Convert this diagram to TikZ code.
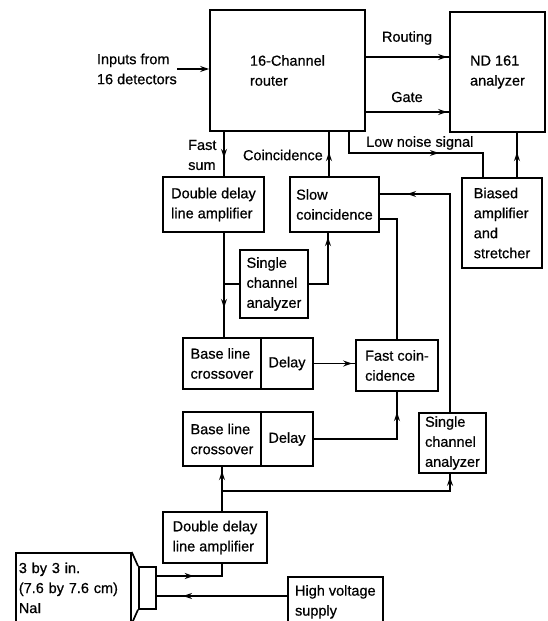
\documentclass[tikz,border=0pt]{standalone}
\usepackage{fontspec}
\setmainfont{Liberation Sans}
\newfontfamily\diagfont{Liberation Sans}[FakeBold=0.6]
\usetikzlibrary{arrows.meta,decorations.markings,calc}
\begin{document}
\begin{tikzpicture}[x=1pt,y=-1pt,
  every node/.style={font=\diagfont\fontsize{14.5}{20}\selectfont},
  box/.style={draw,line width=1.7pt,inner sep=0pt,align=left},
  wire/.style={line width=1.7pt},
  arr/.style={-{Stealth[length=9pt,width=6pt]}},
  tipat/.style={postaction={decorate},decoration={markings,mark=at position #1 with {\arrow{Stealth[length=9pt,width=6pt]}}}},
  lbl/.style={inner sep=0pt,align=left},
]
\useasboundingbox (0,0) rectangle (547,621);
\clip (0,0) rectangle (547,621);

% boxes
\node[box,minimum width=155pt,minimum height=121pt] (router) at (287.5,70.5) {16-Channel\\router};
\node[box,minimum width=95pt,minimum height=120pt] (nd) at (497.5,72) {ND 161\\analyzer};
\node[box,minimum width=80pt,minimum height=90pt] (biased) at (502,223) {Biased\\amplifier\\and\\stretcher};
\node[box,minimum width=101pt,minimum height=55pt] (ddla1) at (213.5,204.5) {Double delay\\line amplifier};
\node[box,minimum width=89pt,minimum height=55pt] (slow) at (334.5,204.5) {Slow\\coincidence};
\node[box,minimum width=68pt,minimum height=68pt] (sca1) at (274,284) {Single\\channel\\analyzer};
\node[box,minimum width=78pt,minimum height=51pt] (blc1) at (222,363.5) {Base line\\crossover};
\node[box,minimum width=52pt,minimum height=51pt] (dly1) at (287,363.5) {Delay};
\node[box,minimum width=82pt,minimum height=51pt] (fastc) at (397,365.5) {Fast coin-\\cidence};
\node[box,minimum width=78pt,minimum height=54pt] (blc2) at (222,439) {Base line\\crossover};
\node[box,minimum width=52pt,minimum height=54pt] (dly2) at (287,439) {Delay};
\node[box,minimum width=67pt,minimum height=60pt] (sca2) at (452.5,443) {Single\\channel\\analyzer};
\node[box,minimum width=104pt,minimum height=51pt] (ddla2) at (215,537.5) {Double delay\\line amplifier};
\node[box,anchor=north west,minimum width=95pt,minimum height=50pt,inner xsep=0pt] (hv) at (287,576) {High voltage\\supply};
\node[box,anchor=north west,text width=109pt,inner xsep=3pt,minimum height=70pt] (nai) at (15,552) {3 by 3 in.\\(7.6 by 7.6 cm)\\NaI};
\node[box,anchor=north west,minimum width=17pt,minimum height=42pt] (neck) at (138,566) {};
\draw[wire] (nai.north east) -- (neck.north west);
\draw[wire] (nai.south east) -- (neck.south west);

% labels
\node[lbl,anchor=east] (inputs) at (177,69) {Inputs from\\16 detectors};
\node[lbl] (lrouting) at (407,38) {Routing};
\node[lbl] (lgate) at (407,97) {Gate};
\node[lbl,anchor=west] (lfast) at (188,155) {Fast\\sum};
\node[lbl,anchor=east] (lcoinc) at (323,155) {Coincidence};
\node[lbl,anchor=west] (llow) at (366,143) {Low noise signal};

% helper coordinates
\coordinate (rt) at (0,57);
\coordinate (gt) at (0,112);
\coordinate (fsx) at (224,0);
\coordinate (cox) at (329,0);
\coordinate (ln1) at (349,153);
\coordinate (ln2) at (483,153);
\coordinate (bix) at (517,0);
\coordinate (br1) at (224,284);
\coordinate (sc1) at (328,284);
\coordinate (fc1) at (397,219);
\coordinate (s2) at (450,194);
\coordinate (br2) at (222,491);
\coordinate (s2b) at (450,491);
\coordinate (nk) at (222,576);
\coordinate (hvy) at (0,596);

% connectors
\draw[wire,arr] (inputs.east) -- (inputs.east -| router.west);
\draw[wire,tipat=-2pt] (router.east |- rt) -- (nd.west |- rt);
\draw[wire,tipat=-2pt] (router.east |- gt) -- (nd.west |- gt);
\draw[wire,tipat=26pt] (router.south -| fsx) -- (ddla1.north -| fsx);
\draw[wire,tipat=24pt] (slow.north -| cox) -- (router.south -| cox);
\draw[wire,tipat=111pt] (router.south -| ln1) -- (ln1) -- (ln2) -- (biased.north -| ln2);
\draw[wire,tipat=25pt] (biased.north -| bix) -- (nd.south -| bix);
\draw[wire,tipat=75pt] (ddla1.south -| fsx) -- (blc1.north -| fsx);
\draw[wire] (br1) -- (sca1.west |- br1);
\draw[wire,tipat=66pt] (sca1.east |- sc1) -- (sc1) -- (slow.south -| sc1);
\draw[wire,tipat=-3pt] (dly1.east) -- (dly1.east -| fastc.west);
\draw[wire] (fastc.north) -- (fc1) -- (slow.east |- fc1);
\draw[wire,tipat=110pt] (dly2.east) -- (fastc.south |- dly2.east) -- (fastc.south);
\draw[wire,tipat=261pt] (sca2.north -| s2) -- (s2) -- (slow.east |- s2);
\draw[wire,tipat=40pt] (ddla2.north -| br2) -- (blc2.south -| br2);
\draw[wire,tipat=-3pt] (br2) -- (s2b) -- (sca2.south -| s2b);
\draw[wire,tipat=37pt] (neck.east |- nk) -- (nk) -- (ddla2.south -| nk);
\draw[wire,tipat=104pt] (hv.west |- hvy) -- (neck.east |- hvy);
\end{tikzpicture}
\end{document}
